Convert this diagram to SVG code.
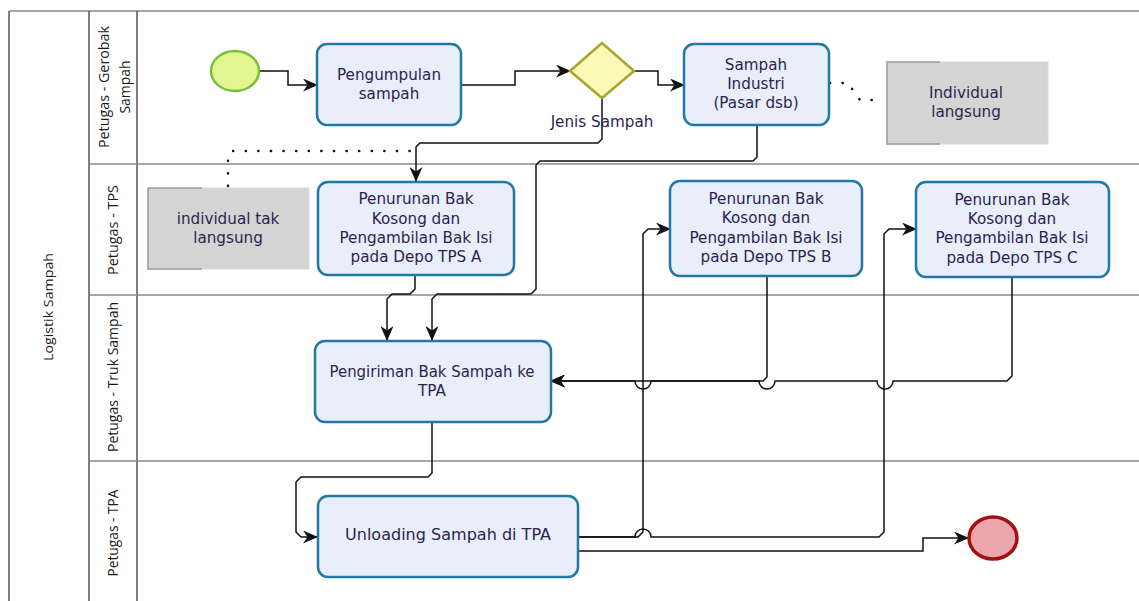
<svg xmlns="http://www.w3.org/2000/svg" width="1139" height="601" viewBox="0 0 1139 601">
<style>
.pool{stroke:#555;stroke-width:1.5;fill:none}
.lane{stroke:#8a8a8a;stroke-width:1.5;fill:none}
.task{fill:#e9eefb;stroke:#2377a6;stroke-width:2.5}
.note{fill:#d4d4d4;stroke:#dadada;stroke-width:1}
.bracket{fill:none;stroke:#9c9c9c;stroke-width:1.5}
.t{font-family:"DejaVu Sans",Verdana,sans-serif;font-size:15.2px;fill:#2d1f4e;text-anchor:middle;dominant-baseline:central}
.lt{font-family:"Open Sans","DejaVu Sans",sans-serif;font-size:14.5px;fill:#1a1a1a;text-anchor:middle;dominant-baseline:central}
.c{fill:none;stroke:#111;stroke-width:1.5}
.d{fill:none;stroke:#111;stroke-width:2.6;stroke-dasharray:0.1 12.5;stroke-linecap:round}
</style>
<defs>
<marker id="ah" viewBox="0 0 15 13" refX="14" refY="6.5" markerWidth="15" markerHeight="13" markerUnits="userSpaceOnUse" orient="auto">
<path d="M0,0 L15,6.5 L0,13 L4.5,6.5 z" fill="#111"/>
</marker>
</defs>
<rect width="1139" height="601" fill="#fff"/>
<g id="pool">
<path class="lane" d="M9 11 H1139"/>
<path class="pool" d="M9 11 V601 M89 11 V601 M137 11 V601"/>
<path class="lane" d="M89 164 H1139 M89 295 H1139 M89 461 H1139"/>
<text class="lt" transform="translate(48 307) rotate(-90)" textLength="108" lengthAdjust="spacingAndGlyphs" style="font-size:13px">Logistik Sampah</text>
<text class="lt" transform="translate(103 87) rotate(-90)" textLength="122" lengthAdjust="spacingAndGlyphs">Petugas - Gerobak</text>
<text class="lt" transform="translate(124 87) rotate(-90)" textLength="53" lengthAdjust="spacingAndGlyphs">Sampah</text>
<text class="lt" transform="translate(112 230) rotate(-90)" textLength="90" lengthAdjust="spacingAndGlyphs">Petugas - TPS</text>
<text class="lt" transform="translate(112 377) rotate(-90)" textLength="150" lengthAdjust="spacingAndGlyphs">Petugas - Truk Sampah</text>
<text class="lt" transform="translate(112 533) rotate(-90)" textLength="87" lengthAdjust="spacingAndGlyphs">Petugas - TPA</text>
</g>
<g id="connectors">
<path class="c" d="M259 71 H288 V85 H317" marker-end="url(#ah)"/>
<path class="c" d="M461 85 H515 V71 H570" marker-end="url(#ah)"/>
<path class="c" d="M633 71 H658 V85 H684" marker-end="url(#ah)"/>
<path class="c" d="M602 98 V139 L598 143 H420 L416 147 V181" marker-end="url(#ah)"/>
<path class="c" d="M757 125 V157 L753 161 H540 L536 165 V289 L531 294 H437 L432 299 V340" marker-end="url(#ah)"/>
<path class="c" d="M415 275 V289 L410 294 H392 L387 299 V340" marker-end="url(#ah)"/>
<path class="c" d="M767 276 V377 L763 381 H551" marker-end="url(#ah)"/>
<path class="c" d="M1012 277 V376 L1007 381 H893 A8 8 0 0 1 877 381 H775 A8 8 0 0 1 759 381 H651 A8 8 0 0 1 635 381 H551" marker-end="url(#ah)"/>
<path class="c" d="M432 422 V473 L428 477 H301 L296 482 V532 L301 537 H317" marker-end="url(#ah)"/>
<path class="c" d="M578 537 H638 L643 532 V234 L648 229 H670" marker-end="url(#ah)"/>
<path class="c" d="M578 537 H635 A8 8 0 0 1 651 537 H879 L884 532 V234 L889 229 H916" marker-end="url(#ah)"/>
<path class="c" d="M578 551 H923 V538 H968" marker-end="url(#ah)"/>
<path class="d" d="M830 83 H848 L860 100 H884"/>
<path class="d" d="M228 186 V155 L232 151 H412"/>
</g>
<g id="start">
<ellipse cx="235" cy="71" rx="24" ry="20" fill="#e2f58e" stroke="#77bf3a" stroke-width="2.5"/>
</g>
<g id="pengumpulan">
<rect class="task" x="317" y="44" width="144" height="81" rx="10"/>
<text class="t" x="389" y="75">Pengumpulan</text>
<text class="t" x="389" y="94">sampah</text>
</g>
<g id="gateway">
<polygon points="602,43 634,71 602,98 570,71" fill="#fbf9b8" stroke="#a9a62a" stroke-width="2.5"/>
<text class="t" x="602" y="122">Jenis Sampah</text>
</g>
<g id="industri">
<rect class="task" x="684" y="44" width="145" height="81" rx="10"/>
<text class="t" x="756" y="65">Sampah</text>
<text class="t" x="756" y="84">Industri</text>
<text class="t" x="756" y="103">(Pasar dsb)</text>
</g>
<g id="note-langsung">
<rect class="note" x="887" y="62" width="161" height="82"/>
<path class="bracket" d="M940 62 H887 V144 H940"/>
<text class="t" x="966" y="93">Individual</text>
<text class="t" x="966" y="112">langsung</text>
</g>
<g id="note-taklangsung">
<rect class="note" x="148" y="188" width="161" height="81"/>
<path class="bracket" d="M202 188 H148 V269 H202"/>
<text class="t" x="228" y="219">individual tak</text>
<text class="t" x="228" y="238">langsung</text>
</g>
<g id="tps-a">
<rect class="task" x="318" y="182" width="196" height="93" rx="10"/>
<text class="t" x="416" y="199">Penurunan Bak</text>
<text class="t" x="416" y="219">Kosong dan</text>
<text class="t" x="416" y="238">Pengambilan Bak Isi</text>
<text class="t" x="416" y="257">pada Depo TPS A</text>
</g>
<g id="tps-b">
<rect class="task" x="670" y="181" width="192" height="95" rx="10"/>
<text class="t" x="766" y="199">Penurunan Bak</text>
<text class="t" x="766" y="218">Kosong dan</text>
<text class="t" x="766" y="238">Pengambilan Bak Isi</text>
<text class="t" x="766" y="257">pada Depo TPS B</text>
</g>
<g id="tps-c">
<rect class="task" x="916" y="182" width="193" height="95" rx="10"/>
<text class="t" x="1012" y="200">Penurunan Bak</text>
<text class="t" x="1012" y="219">Kosong dan</text>
<text class="t" x="1012" y="238">Pengambilan Bak Isi</text>
<text class="t" x="1012" y="258">pada Depo TPS C</text>
</g>
<g id="pengiriman">
<rect class="task" x="315" y="341" width="236" height="81" rx="10"/>
<text class="t" x="432" y="372" textLength="205" lengthAdjust="spacingAndGlyphs">Pengiriman Bak Sampah ke</text>
<text class="t" x="432" y="391">TPA</text>
</g>
<g id="unloading">
<rect class="task" x="318" y="496" width="260" height="81" rx="10"/>
<text class="t" x="448" y="535" textLength="206" lengthAdjust="spacingAndGlyphs">Unloading Sampah di TPA</text>
</g>
<g id="end">
<ellipse cx="993" cy="538" rx="24" ry="21" fill="#eaa6aa" stroke="#a3100f" stroke-width="3.5"/>
</g>
</svg>
